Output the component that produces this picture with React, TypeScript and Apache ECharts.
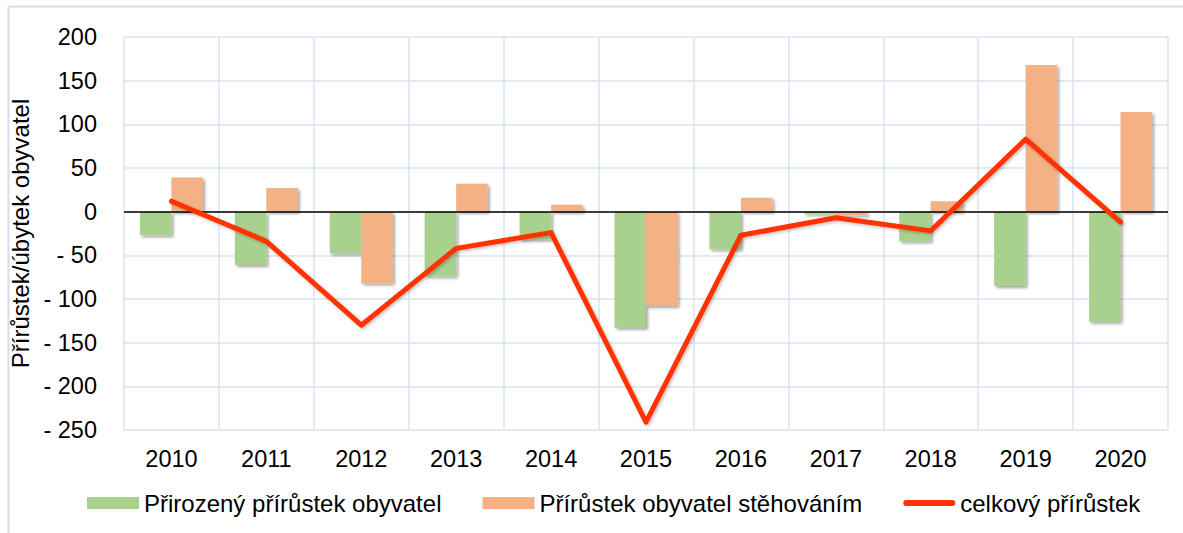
import React, { useEffect, useRef } from "react";
import * as echarts from "echarts";

const years = ["2010", "2011", "2012", "2013", "2014", "2015", "2016", "2017", "2018", "2019", "2020"];
const prirozeny = [-27, -61, -48, -74, -32, -133, -43, -3, -34, -85, -126];
const stehovanim = [39, 27, -82, 32, 8, -108, 16, -4, 12, 168, 114];
const celkovy = [12, -34, -130, -42, -24, -241, -27, -7, -22, 83, -12];
const yTicks = { min: -250, max: 200, interval: 50 };

const FONT = "'Liberation Sans', Arial, sans-serif";
const GRID = "#D9E3F2";

export default function App() {
  const ref = useRef<HTMLDivElement>(null);
  useEffect(() => {
    if (!ref.current) return;
    const chart = echarts.init(ref.current, null, { renderer: "svg" });
    const shadow = {
      shadowBlur: 3,
      shadowOffsetX: 2,
      shadowOffsetY: 2,
      shadowColor: "rgba(0,0,0,0.35)",
    };
    chart.setOption({
      animation: false,
      backgroundColor: "#fff",
      textStyle: { fontFamily: FONT },
      graphic: [
        {
          type: "rect",
          shape: { x: 8.5, y: 6.5, width: 1190, height: 560 },
          style: { fill: "none", stroke: "#D6DFEA", lineWidth: 2 },
          silent: true,
        },
      ],
      grid: { left: 124, top: 37, width: 1044, height: 393, containLabel: false },
      legend: {
        left: 87,
        top: 491,
        padding: 0,
        itemGap: 41,
        itemWidth: 52,
        itemHeight: 12,
        textStyle: { fontSize: 24, color: "#000", fontFamily: FONT },
        itemStyle: { shadowBlur: 0, shadowOffsetX: 0, shadowOffsetY: 0, shadowColor: "transparent" },
        data: [
          { name: "Přirozený přírůstek obyvatel", icon: "rect" },
          { name: "Přírůstek obyvatel stěhováním", icon: "rect" },
          { name: "celkový přírůstek", icon: "path://M3,0H49A3,3 0 0 1 49,6H3A3,3 0 0 1 3,0Z" },
        ],
      },
      xAxis: {
        type: "category",
        data: years,
        boundaryGap: true,
        axisLine: { show: false, onZero: false },
        axisTick: { show: false },
        splitLine: { show: true, interval: 0, lineStyle: { color: GRID, width: 1.5 } },
        axisLabel: { fontSize: 23.5, color: "#000", margin: 17, fontFamily: FONT },
      },
      yAxis: {
        type: "value",
        min: yTicks.min,
        max: yTicks.max,
        interval: yTicks.interval,
        name: "Přírůstek/úbytek obyvatel",
        nameLocation: "middle",
        nameGap: 88,
        nameTextStyle: { fontSize: 24, color: "#000", fontFamily: FONT },
        axisLine: { show: false },
        axisTick: { show: false },
        splitLine: { show: true, lineStyle: { color: GRID, width: 1.5 } },
        axisLabel: {
          fontSize: 23.5,
          color: "#000",
          margin: 27,
          fontFamily: FONT,
          formatter: (v: number) => (v < 0 ? "- " + Math.abs(v) : String(v)),
        },
      },
      series: [
        {
          name: "Přirozený přírůstek obyvatel",
          type: "bar",
          data: prirozeny,
          barWidth: 31.5,
          barGap: "0%",
          itemStyle: { color: "#A9D18E", ...shadow },
          markLine: {
            silent: true,
            symbol: "none",
            label: { show: false },
            lineStyle: { color: "#000", width: 1.5, type: "solid" },
            data: [{ yAxis: 0 }],
          },
        },
        {
          name: "Přírůstek obyvatel stěhováním",
          type: "bar",
          data: stehovanim,
          barWidth: 31.5,
          barGap: "0%",
          itemStyle: { color: "#F4B183", ...shadow },
        },
        {
          name: "celkový přírůstek",
          type: "line",
          data: celkovy,
          symbol: "none",
          z: 5,
          itemStyle: { color: "#FF3300" },
          lineStyle: {
            color: "#FF3300",
            width: 5,
            join: "round",
            cap: "round",
            shadowBlur: 3,
            shadowOffsetX: 1.5,
            shadowOffsetY: 1.5,
            shadowColor: "rgba(0,0,0,0.25)",
          },
        },
      ],
    });
    return () => chart.dispose();
  }, []);
  return (
    <div
      ref={ref}
      style={{ position: "absolute", left: 0, top: 0, width: 1183, height: 533 }}
    />
  );
}
